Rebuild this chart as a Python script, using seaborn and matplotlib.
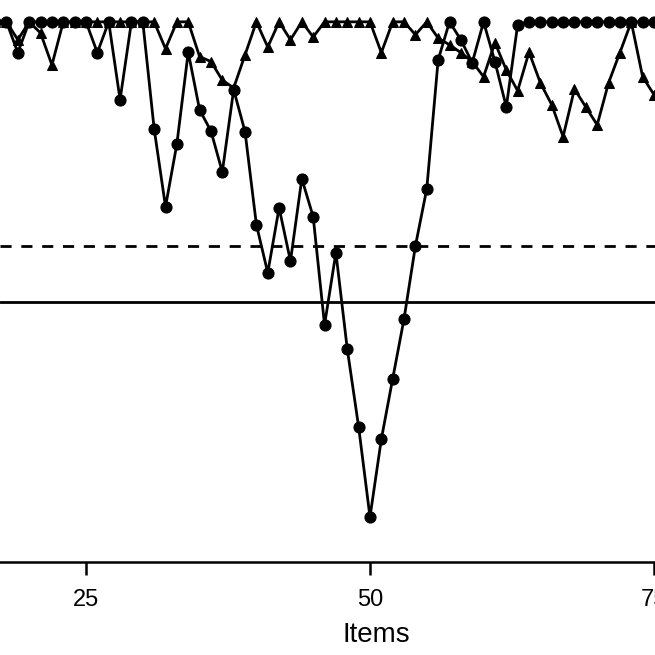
import numpy as np
import pandas as pd
import matplotlib
matplotlib.use("Agg")
import matplotlib.pyplot as plt
import seaborn as sns

# Items shown in the (cropped) view
items = list(range(17, 76))

# circles series
circles = [1.0, 1.0, 0.945, 1.0, 1.0, 1.0, 1.0, 1.0, 1.0, 0.945,
           1.0, 0.861, 1.0, 1.0, 0.809, 0.670, 0.782, 0.946, 0.843, 0.805,
           0.732, 0.879, 0.804, 0.638, 0.552, 0.668, 0.573, 0.720, 0.652, 0.459,
           0.588, 0.416, 0.277, 0.116, 0.255, 0.363, 0.470, 0.600, 0.702, 0.932,
           1.0, 0.968, 0.927, 1.0, 0.929, 0.848, 0.995, 1.0, 1.0, 1.0,
           1.0, 1.0, 1.0, 1.0, 1.0, 1.0, 1.0, 1.0, 1.0]

# triangles series
triangles = [1.0, 1.0, 0.968, 1.0, 0.980, 0.923, 1.0, 1.0, 1.0, 1.0,
             1.0, 1.0, 1.0, 1.0, 1.0, 0.952, 1.0, 1.0, 0.938, 0.929,
             0.896, 0.882, 0.941, 1.0, 0.955, 1.0, 0.968, 1.0, 0.973, 1.0,
             1.0, 1.0, 1.0, 1.0, 0.945, 1.0, 1.0, 0.977, 1.0, 0.971,
             0.959, 0.945, 0.929, 0.902, 0.963, 0.914, 0.877, 0.946, 0.891, 0.852,
             0.795, 0.880, 0.848, 0.816, 0.891, 0.945, 1.0, 0.902, 0.870]

cut_dashed = 0.6
cut_solid = 0.5
xticks = [25, 50, 75]

df = pd.DataFrame({"item": items, "circles": circles, "triangles": triangles})

sns.set_style("white")
plt.rcParams["font.family"] = ["Liberation Sans", "DejaVu Sans"]
plt.rcParams["text.color"] = "black"

fig = plt.figure(figsize=(6.55, 6.55), dpi=100)
ax = fig.add_axes([0.0, 93 / 655, 1.0, 562 / 655])

sns.lineplot(data=df, x="item", y="triangles", ax=ax, color="black", lw=2.0,
             marker="^", markersize=6.5, markeredgecolor="black")
sns.lineplot(data=df, x="item", y="circles", ax=ax, color="black", lw=2.0,
             marker="o", markersize=8, markeredgecolor="black")

ax.axhline(cut_dashed, color="black", lw=2.0, linestyle=(0, (4.0, 3.5)))
ax.axhline(cut_solid, color="black", lw=2.0)

ax.set_xlim(17.43, 75.09)
ax.set_ylim(0.0357, 1.039)
ax.set_xticks(xticks)
ax.set_yticks([])
ax.set_ylabel("")
ax.set_xlabel("Items", fontsize=20, color="black")
ax.xaxis.set_label_coords(376 / 655, -60 / 562)
ax.tick_params(axis="x", length=9.4, width=1.8, labelsize=17, pad=10, direction="out",
               color="black", labelcolor="black", bottom=True)
for side in ["top", "left", "right"]:
    ax.spines[side].set_visible(False)
ax.spines["bottom"].set_linewidth(1.8)
ax.spines["bottom"].set_color("black")

fig.savefig("out.png", dpi=100)
